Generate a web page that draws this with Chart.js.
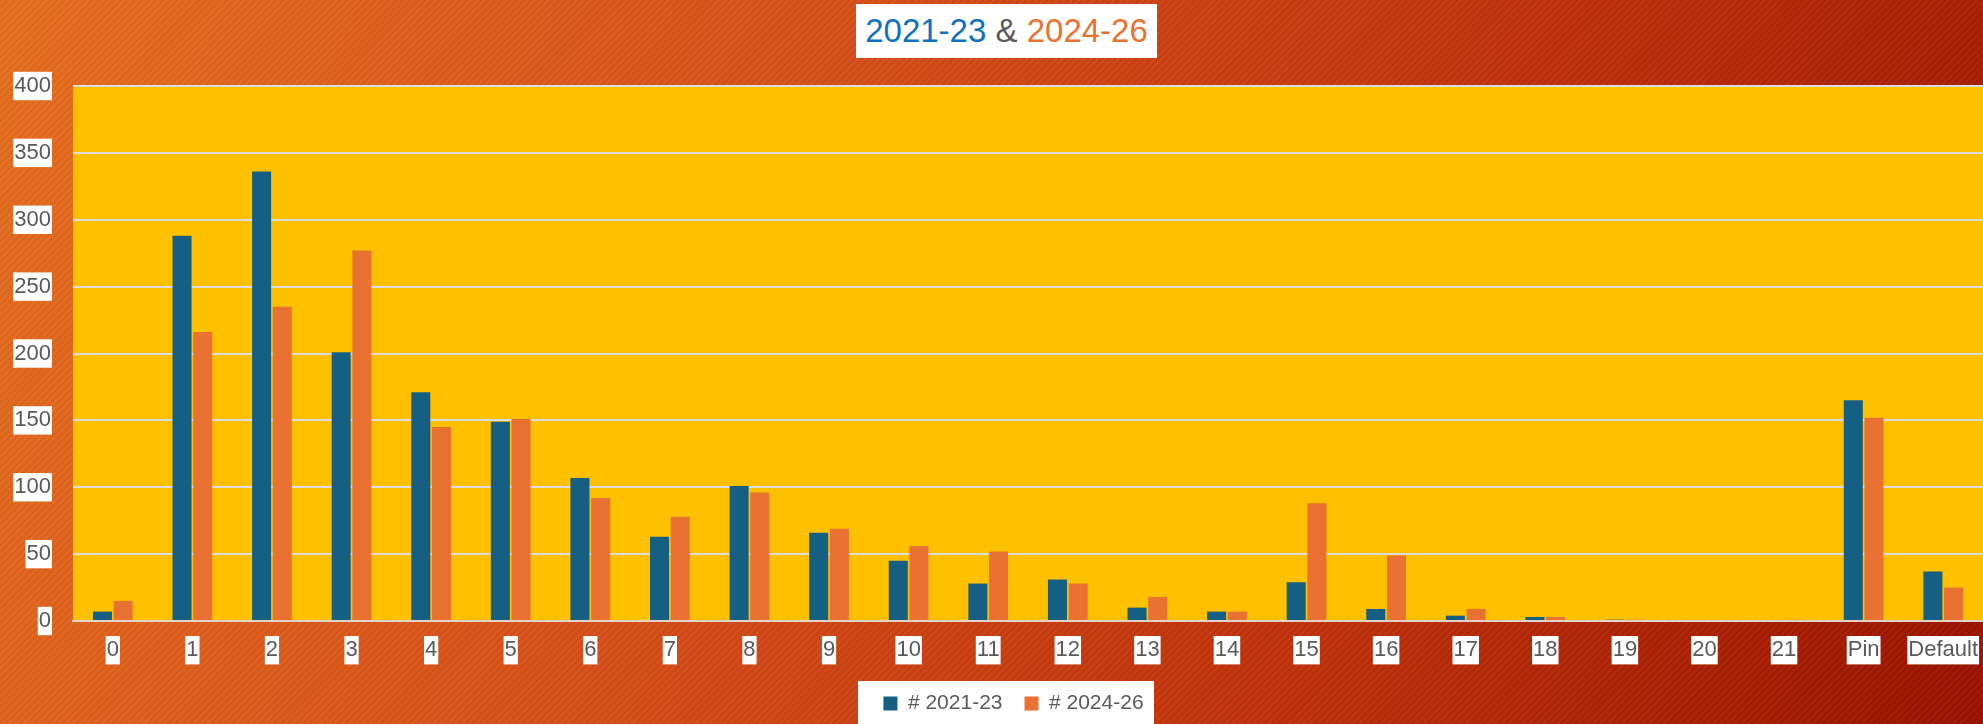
<!DOCTYPE html>
<html lang="en">
<head>
    <meta charset="UTF-8">
    <title>2021-23 &amp; 2024-26</title>
    <script src="https://cdn.jsdelivr.net/npm/chart.js"></script>
    <style>
        html, body {
            margin: 0;
            padding: 0;
        }
        #wrap {
            position: relative;
            width: 1983px;
            height: 724px;
            overflow: hidden;
            background:
                repeating-linear-gradient(-45deg, rgba(255,255,255,0.035) 0px, rgba(255,255,255,0.035) 2px, rgba(0,0,0,0.03) 2px, rgba(0,0,0,0.03) 5px),
                linear-gradient(112deg, #e66f1f 0%, #d9511a 35%, #c0300a 70%, #9a1300 100%);
        }
        #title {
            position: absolute;
            left: 856px;
            top: 4px;
            width: 301px;
            height: 54px;
            background: #fff;
            font-family: "Liberation Sans", Arial, sans-serif;
            font-size: 33px;
            line-height: 54px;
            text-align: center;
            color: #595959;
        }
        #title .a { color: #0f70c0; }
        #title .b { color: #e97132; }
        canvas { position: absolute; left: 0; top: 0; }
    </style>
</head>
<body>
    <div id="wrap">
        <canvas id="chart" width="1983" height="724"></canvas>
        <div id="title"><span class="a">2021-23</span> &amp; <span class="b">2024-26</span></div>
    </div>

    <script>
        const categories = ['0', '1', '2', '3', '4', '5', '6', '7', '8', '9', '10', '11',
            '12', '13', '14', '15', '16', '17', '18', '19', '20', '21', 'Pin', 'Default'];
        const series2123 = [7, 288, 336, 201, 171, 149, 107, 63, 101, 66, 45, 28,
            31, 10, 7, 29, 9, 4, 3, 1, 0, 0, 165, 37];
        const series2426 = [15, 216, 235, 277, 145, 151, 92, 78, 96, 69, 56, 52,
            28, 18, 7, 88, 49, 9, 3, 1, 0, 1, 152, 25];
        const yTicks = [0, 50, 100, 150, 200, 250, 300, 350, 400];

        const tickFont = { family: "'Liberation Sans', Arial, sans-serif", size: 22 };
        const legendFont = { family: "'Liberation Sans', Arial, sans-serif", size: 21 };

        // yellow plot background + white box behind the legend
        const paintPlugin = {
            id: 'paint',
            afterLayout(chart) {
                // nudge the legend to where it sits in the original
                const lg = chart.legend;
                lg.left += 22; lg.right += 22;
            },
            beforeDraw(chart) {
                const { ctx, chartArea } = chart;
                ctx.save();
                ctx.fillStyle = '#ffc000';
                ctx.fillRect(chartArea.left, chartArea.top, chartArea.right - chartArea.left, chartArea.bottom - chartArea.top);
                ctx.fillStyle = '#ffffff';
                ctx.fillRect(858, 681, 296, 43);
                ctx.restore();
            }
        };

        new Chart(document.getElementById('chart'), {
            type: 'bar',
            data: {
                labels: categories,
                datasets: [{
                    label: '# 2021-23',
                    data: series2123,
                    backgroundColor: '#156082'
                }, {
                    label: '# 2024-26',
                    data: series2426,
                    backgroundColor: '#e97132'
                }]
            },
            plugins: [paintPlugin],
            options: {
                responsive: false,
                animation: false,
                layout: { padding: { top: 86, right: 0, bottom: 0, left: 0 } },
                datasets: {
                    bar: { categoryPercentage: 0.52, barPercentage: 0.92 }
                },
                plugins: {
                    title: { display: false },
                    tooltip: { enabled: false },
                    legend: {
                        position: 'bottom',
                        labels: {
                            font: legendFont,
                            color: '#595959',
                            boxWidth: 14,
                            boxHeight: 14,
                            padding: 22
                        }
                    }
                },
                scales: {
                    x: {
                        grid: { display: false, drawTicks: false },
                        border: { display: true, color: '#e6d3c8', width: 2 },
                        ticks: {
                            font: tickFont,
                            color: '#595959',
                            padding: 16,
                            maxRotation: 0,
                            autoSkip: false,
                            showLabelBackdrop: true,
                            backdropColor: '#ffffff',
                            backdropPadding: { top: 1, bottom: 1, left: 1, right: 1 }
                        },
                        afterFit(scale) {
                            scale.height = 50;
                            scale.paddingLeft = 0;
                            scale.paddingRight = 0;
                        }
                    },
                    y: {
                        min: 0,
                        max: 400,
                        afterBuildTicks(scale) { scale.ticks = yTicks.map(v => ({ value: v })); },
                        grid: { color: '#dcdcdc', lineWidth: 2, drawTicks: false },
                        border: { display: false },
                        ticks: {
                            font: tickFont,
                            color: '#595959',
                            padding: 22,
                            showLabelBackdrop: true,
                            backdropColor: '#ffffff',
                            backdropPadding: { top: 1, bottom: 1, left: 1, right: 1 }
                        },
                        afterFit(scale) { scale.width = 73; }
                    }
                }
            }
        });
    </script>
</body>
</html>
